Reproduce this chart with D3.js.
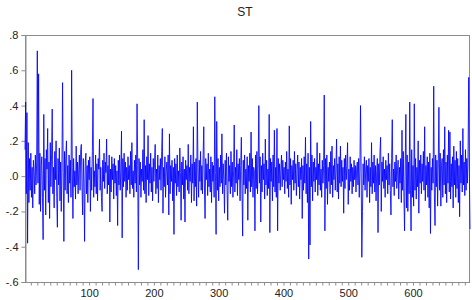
<!DOCTYPE html>
<html><head><meta charset="utf-8">
<script src="https://cdn.jsdelivr.net/npm/d3@7"></script>
<style>body{margin:0;background:#fff}svg{display:block}text{font-family:"Liberation Sans",Arial,sans-serif}</style>
</head><body><div id="chart"></div>
<script>
const title = "ST";
const yTicks = [-0.6, -0.4, -0.2, 0, 0.2, 0.4, 0.6, 0.8];
const yTickLabels = ["-.6", "-.4", "-.2", ".0", ".2", ".4", ".6", ".8"];
const xTickLabels = [100, 200, 300, 400, 500, 600];
const stValues = [
0.15,0.42,-0.10,0.36,-0.38,0.19,-0.15,0.10,-0.08,0.13,
-0.12,0.05,-0.18,0.09,0.02,-0.10,0.12,-0.05,0.08,0.71,
-0.04,0.58,-0.16,0.13,-0.20,0.06,0.11,-0.12,-0.36,0.35,
-0.08,0.10,-0.22,0.15,0.04,0.27,-0.15,0.08,-0.24,0.19,
-0.06,0.12,0.38,-0.10,0.05,-0.18,0.14,-0.02,0.20,-0.12,
-0.29,0.10,-0.05,0.16,-0.14,0.08,-0.20,0.04,0.53,0.02,
-0.37,0.14,-0.08,0.11,0.20,-0.10,0.06,-0.15,0.12,-0.04,
0.09,-0.12,0.60,0.05,-0.24,0.10,-0.06,0.03,-0.13,0.17,
-0.05,0.08,-0.10,0.04,0.12,-0.08,0.15,0.18,-0.06,-0.22,
0.10,-0.04,-0.37,0.08,0.13,-0.10,0.06,-0.15,0.09,-0.02,
0.11,-0.20,0.05,-0.08,0.14,0.44,-0.12,0.03,-0.06,0.12,
-0.10,0.07,-0.14,0.10,0.04,0.21,-0.08,0.05,-0.12,-0.20,
0.09,-0.03,0.13,-0.07,0.08,0.02,0.21,-0.10,0.06,-0.05,
0.12,-0.26,0.04,-0.09,0.11,-0.02,0.07,-0.13,0.10,-0.04,
0.06,-0.11,0.03,-0.28,0.09,-0.05,0.12,-0.08,0.04,0.255,
-0.35,0.10,-0.06,0.13,-0.03,0.08,-0.12,0.05,-0.08,0.11,
-0.02,0.06,-0.10,0.14,-0.05,0.19,-0.07,0.03,-0.12,0.09,
-0.04,0.12,-0.09,0.41,0.06,-0.53,0.10,-0.05,0.08,-0.12,
0.04,-0.03,0.15,-0.08,0.32,-0.10,0.06,-0.15,0.11,-0.02,
0.23,-0.11,0.07,-0.04,0.13,-0.09,0.05,-0.14,0.10,-0.03,
0.08,0.18,-0.10,0.04,-0.07,0.12,-0.15,0.06,-0.02,0.10,
-0.08,0.14,0.27,-0.21,0.05,-0.06,0.11,-0.12,0.03,0.08,
-0.05,0.12,-0.22,0.24,-0.10,0.06,-0.03,0.09,-0.14,0.05,
-0.33,0.10,-0.04,0.07,-0.11,0.12,-0.06,0.03,-0.09,0.16,
0.02,-0.25,0.08,-0.05,0.11,-0.13,0.04,-0.26,0.09,-0.02,
0.06,-0.08,0.18,-0.10,0.05,-0.03,0.12,-0.15,0.07,-0.04,
0.28,-0.14,0.08,-0.06,0.10,-0.17,0.42,0.05,-0.12,0.09,
-0.03,0.14,-0.08,0.06,-0.10,0.12,0.28,-0.05,-0.24,0.10,
-0.02,0.07,-0.11,0.13,-0.06,0.04,-0.09,0.11,-0.15,0.08,
-0.03,0.06,-0.12,0.45,0.02,-0.33,0.31,-0.08,0.10,-0.14,
0.05,-0.06,0.12,-0.04,0.24,-0.10,0.07,-0.02,-0.21,0.09,
-0.05,0.13,-0.08,-0.25,0.11,-0.03,0.06,-0.10,0.14,-0.06,
0.08,-0.12,0.03,0.29,-0.09,0.05,-0.04,0.15,-0.11,0.07,
-0.02,0.10,-0.14,0.06,0.22,-0.08,-0.34,0.09,-0.05,0.12,
-0.10,0.04,-0.07,0.11,-0.25,0.06,-0.03,0.13,-0.09,0.25,
-0.06,0.10,-0.12,0.05,0.03,-0.31,0.12,-0.07,0.14,-0.10,
0.08,0.40,-0.04,0.11,-0.26,0.06,-0.09,0.13,-0.02,0.07,
-0.13,0.21,-0.05,0.09,-0.11,0.04,-0.07,0.35,-0.32,0.10,
-0.03,0.08,-0.14,0.12,-0.06,0.26,-0.09,0.05,-0.12,0.27,
-0.31,0.10,-0.04,0.07,-0.08,0.03,0.12,-0.06,0.09,-0.02,
0.05,-0.10,0.08,-0.03,0.14,-0.07,0.04,-0.12,0.285,-0.05,
0.10,-0.16,0.06,-0.02,0.09,-0.08,0.14,-0.04,0.07,-0.11,
0.03,0.12,-0.06,0.08,-0.13,0.05,-0.02,0.10,-0.24,0.06,
-0.08,0.11,-0.04,0.22,-0.10,0.07,-0.15,0.13,-0.47,0.05,
-0.39,0.31,-0.06,0.12,-0.14,0.08,-0.03,0.10,-0.09,0.05,
-0.02,0.19,-0.11,0.07,-0.05,0.13,-0.08,0.04,-0.12,0.09,
-0.04,0.06,0.46,-0.31,0.10,-0.07,0.12,-0.16,0.05,-0.03,
0.08,-0.10,0.14,-0.05,0.17,-0.12,0.06,-0.02,0.10,-0.08,
0.04,0.21,-0.09,0.07,-0.13,0.11,-0.04,0.17,-0.06,0.09,
-0.03,0.05,-0.21,0.10,-0.07,0.12,-0.02,0.06,0.19,-0.16,
0.04,-0.08,0.11,-0.03,0.07,-0.10,0.05,-0.06,0.09,-0.02,
0.06,-0.09,0.04,0.08,-0.05,0.10,-0.12,0.03,0.40,0.02,
-0.46,-0.20,0.07,-0.05,0.11,-0.08,0.04,0.09,-0.12,0.06,
-0.03,0.10,-0.15,0.05,-0.06,0.19,-0.10,0.08,-0.04,0.12,
-0.09,0.06,-0.14,0.03,0.10,-0.32,0.07,-0.05,0.13,0.22,
-0.20,0.08,-0.03,0.11,-0.07,0.04,-0.12,0.09,-0.02,0.06,
-0.10,0.13,-0.05,0.07,-0.08,-0.22,0.10,0.32,-0.06,0.04,
-0.11,0.08,-0.03,0.12,-0.07,0.03,0.09,-0.13,0.05,-0.04,
0.10,-0.15,0.26,-0.08,0.14,-0.12,-0.31,0.07,0.35,-0.18,
0.12,-0.20,0.08,-0.10,0.42,-0.05,-0.31,0.15,-0.12,0.06,
-0.17,0.41,-0.08,0.10,-0.13,0.05,-0.06,0.20,-0.21,0.09,
-0.04,0.12,-0.10,0.07,-0.03,0.14,-0.08,0.28,-0.14,0.06,
-0.05,0.11,-0.12,0.08,-0.18,0.13,-0.325,0.05,-0.08,0.10,
-0.04,0.51,-0.10,-0.28,0.12,-0.06,0.09,-0.17,0.07,0.39,
-0.08,0.13,-0.17,0.06,0.10,-0.12,0.15,-0.05,0.28,-0.10,
0.08,-0.15,0.12,-0.04,0.26,-0.09,0.25,-0.13,0.07,-0.06,
0.11,-0.18,0.17,-0.05,0.09,-0.12,0.14,-0.07,0.10,-0.15,
0.06,-0.23,0.20,-0.04,0.12,-0.09,0.27,-0.05,0.08,-0.11,
0.15,-0.08,0.10,-0.04,0.12,0.56,0.02,-0.30
];

const W = 472, H = 300;
const m = {left: 25, right: 2, top: 35, bottom: 18};
const svg = d3.select("#chart").append("svg").attr("width", W).attr("height", H);
const n = stValues.length;
const x = d3.scaleLinear().domain([1, n]).range([m.left, W - m.right]);
const y = d3.scaleLinear().domain([-0.6, 0.8]).range([H - m.bottom, m.top]);
const axisColor = "#8c8c8c";

svg.append("rect").attr("x", m.left + 0.5).attr("y", m.top + 0.5)
  .attr("width", W - m.right - m.left - 1).attr("height", H - m.bottom - m.top)
  .attr("fill", "none").attr("stroke", axisColor).attr("stroke-width", 1);

const yAxis = d3.axisLeft(y).tickValues(yTicks)
  .tickFormat((d, i) => yTickLabels[i]).tickSize(4).tickPadding(3);
const gy = svg.append("g").attr("transform", `translate(${m.left + 0.5},0)`).call(yAxis);
gy.select(".domain").attr("stroke", axisColor);
gy.selectAll(".tick line").attr("stroke", axisColor);
gy.selectAll("text").attr("font-size", 11).attr("fill", "#222")
  .attr("font-family", "'Liberation Sans', Arial, sans-serif");

const minor = d3.range(10, n, 10);
const xAxis = d3.axisBottom(x).tickValues(minor)
  .tickFormat(d => xTickLabels.includes(d) ? d : "").tickSize(3).tickPadding(4);
const gx = svg.append("g").attr("transform", `translate(0,${H - m.bottom + 0.5})`).call(xAxis);
gx.select(".domain").remove();
gx.selectAll(".tick line").attr("stroke", axisColor);
gx.selectAll("text").attr("font-size", 11).attr("fill", "#222")
  .attr("font-family", "'Liberation Sans', Arial, sans-serif");

const line = d3.line().x((d, i) => x(i + 1)).y(d => y(d));
svg.append("path").datum(stValues).attr("d", line)
  .attr("fill", "none").attr("stroke", "#0000ff").attr("stroke-width", 0.85);

svg.append("text").attr("x", 245).attr("y", 16).attr("text-anchor", "middle")
  .attr("font-size", 12).attr("fill", "#222").text(title);
</script></body></html>
